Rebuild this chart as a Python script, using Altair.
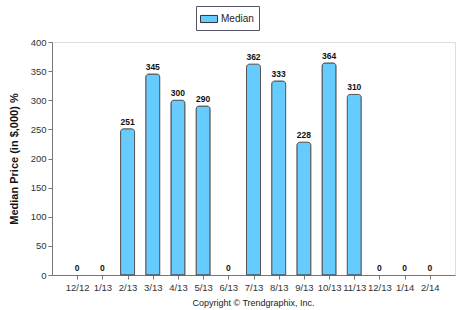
import altair as alt
import pandas as pd

months = ["12/12", "1/13", "2/13", "3/13", "4/13", "5/13", "6/13", "7/13",
          "8/13", "9/13", "10/13", "11/13", "12/13", "1/14", "2/14"]
median = [0, 0, 251, 345, 300, 290, 0, 362, 333, 228, 364, 310, 0, 0, 0]
series = ["Median"] * len(months)

df = pd.DataFrame({"month": months, "value": median, "series": series})

FONT = "Liberation Sans"

x = alt.X("month:N", sort=months, title=None,
          scale=alt.Scale(type="point", padding=1),
          axis=alt.Axis(labelAngle=0, labelFontSize=9.5, labelFont=FONT,
                        labelColor="#333", domainColor="#777", tickColor="#777",
                        tickSize=4, labelPadding=3))
y = alt.Y("value:Q", title="Median Price (in $,000) %",
          scale=alt.Scale(domain=[0, 400], nice=False),
          axis=alt.Axis(values=list(range(0, 401, 50)), grid=False,
                        labelFontSize=9.5, labelFont=FONT, labelColor="#333",
                        domainColor="#777", tickColor="#777", tickSize=4,
                        titleFontSize=11, titleFont=FONT, titleFontWeight="bold",
                        titleColor="#111", titlePadding=11))

bars = alt.Chart(df).transform_filter("datum.value > 0").mark_bar(
    size=14, stroke="#555", strokeWidth=1,
    cornerRadiusTopLeft=3, cornerRadiusTopRight=3
).encode(
    x=x, y=y,
    color=alt.Color("series:N", title=None,
                    scale=alt.Scale(domain=["Median"], range=["#66CCFF"]),
                    legend=alt.Legend(orient="none", legendX=144, legendY=-36,
                                      direction="horizontal",
                                      symbolType="M-1.2,-0.5L1.2,-0.5L1.2,0.5L-1.2,0.5Z",
                                      symbolSize=200, symbolStrokeColor="#333",
                                      symbolStrokeWidth=1,
                                      labelFont=FONT, labelFontSize=10,
                                      labelColor="#222",
                                      strokeColor="#556", fillColor="white",
                                      padding=5, cornerRadius=0))
)

labels = alt.Chart(df).mark_text(
    dy=-7, fontSize=8.5, fontWeight="bold", font=FONT, color="#111"
).encode(x=x, y=y, text="value:Q")

chart = (bars + labels).properties(
    width=403, height=233,
    title=alt.TitleParams("Copyright \u00a9 Trendgraphix, Inc.", orient="bottom",
                          anchor="middle", fontSize=9, font=FONT,
                          fontWeight="normal", color="#222", offset=7),
    autosize=alt.AutoSizeParams(type="none"),
    padding={"left": 52, "top": 42, "right": 6, "bottom": 35}
).configure_view(stroke=None).configure(background="white")

chart.save("out.html", embed_options={"renderer": "svg", "actions": False})
